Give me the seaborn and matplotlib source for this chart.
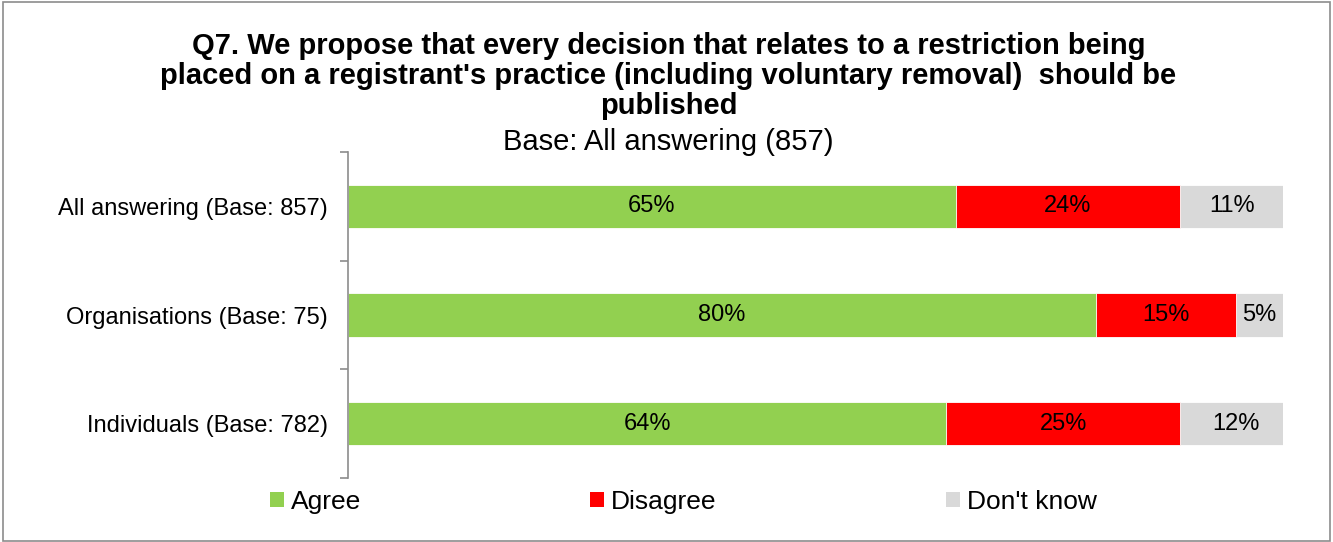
import numpy as np
import pandas as pd
import matplotlib
matplotlib.use("Agg")
import matplotlib.pyplot as plt
from matplotlib.patches import Patch, Rectangle
import seaborn as sns

# Survey responses (%)
groups = ["All answering (Base: 857)", "Organisations (Base: 75)", "Individuals (Base: 782)"]
agree = [65, 80, 64]
disagree = [24, 15, 25]
dont_know = [11, 5, 12]
series_names = ["Agree", "Disagree", "Don't know"]
colors = ["#92D050", "#FF0000", "#D9D9D9"]

title = ("Q7. We propose that every decision that relates to a restriction being\n"
         "placed on a registrant's practice (including voluntary removal)  should be\n"
         "published")
subtitle = "Base: All answering (857)"

sns.set_theme(style="white")
plt.rcParams["font.family"] = ["Liberation Sans", "DejaVu Sans"]
plt.rcParams["text.color"] = "black"
plt.rcParams["ytick.labelcolor"] = "black"

df = pd.DataFrame({"group": groups, "Agree": agree, "Disagree": disagree, "Don't know": dont_know})
df["cum1"] = df["Agree"]
df["cum2"] = df["Agree"] + df["Disagree"]
df["cum3"] = df["cum2"] + df["Don't know"]

fig = plt.figure(figsize=(13.33, 5.42), dpi=100)
ax = fig.add_axes([348 / 1333, 1 - 478 / 542, (1283 - 348) / 1333, (478 - 152) / 542])

# stacked bars drawn back-to-front as cumulative totals
for col, c in zip(["cum3", "cum2", "cum1"], colors[::-1]):
    sns.barplot(data=df, x=col, y="group", orient="h", color=c, width=0.4,
                edgecolor="white", linewidth=0.6, saturation=1, ax=ax)

# segment labels
starts = [np.zeros(3), np.array(agree, float), np.array(agree, float) + np.array(disagree, float)]
for vals, left in zip([agree, disagree, dont_know], starts):
    for i, (v, l) in enumerate(zip(vals, left)):
        ax.text(l + v / 2, i, f"{v}%", ha="center", va="center", fontsize=17, color="black")

ax.set_xlim(0, 100)
ax.set_ylim(2.5, -0.5)
ax.set_xlabel("")
ax.set_ylabel("")
ax.set_xticks([])
for s in ["top", "right", "bottom"]:
    ax.spines[s].set_visible(False)
ax.spines["left"].set_color("#8C8C8C")
ax.spines["left"].set_linewidth(1.2)

# category boundaries as major ticks, names as minor ticks
ax.set_yticks([-0.5, 0.5, 1.5, 2.5])
ax.set_yticklabels([])
ax.tick_params(axis="y", which="major", left=True, length=6, width=1.2, color="#8C8C8C", direction="out")
ax.set_yticks([0, 1, 2], minor=True)
ax.set_yticklabels(groups, minor=True, fontsize=17)
ax.tick_params(axis="y", which="minor", left=True, length=0, pad=14.5, labelcolor="black")

fig.text(0.5015, 1 - 76 / 542, title, ha="center", va="center", fontsize=21,
         fontweight="bold", linespacing=1.1, multialignment="center")
fig.text(0.5015, 1 - 142 / 542, subtitle, ha="center", va="center", fontsize=21)

handles = [Patch(facecolor=c, edgecolor="none") for c in colors]
fig.legend(handles, series_names, loc="center left", bbox_to_anchor=(270 / 1333, 1 - 502 / 542),
           ncol=3, frameon=False, fontsize=19, handlelength=0.53, handleheight=0.53,
           handletextpad=0.25, columnspacing=8.7, borderaxespad=0, borderpad=0)

fig.patches.append(Rectangle((0.002, 0.002), 0.996, 0.994, transform=fig.transFigure,
                             fill=False, edgecolor="#8C8C8C", linewidth=1.2))

fig.savefig("out.png", dpi=100)
